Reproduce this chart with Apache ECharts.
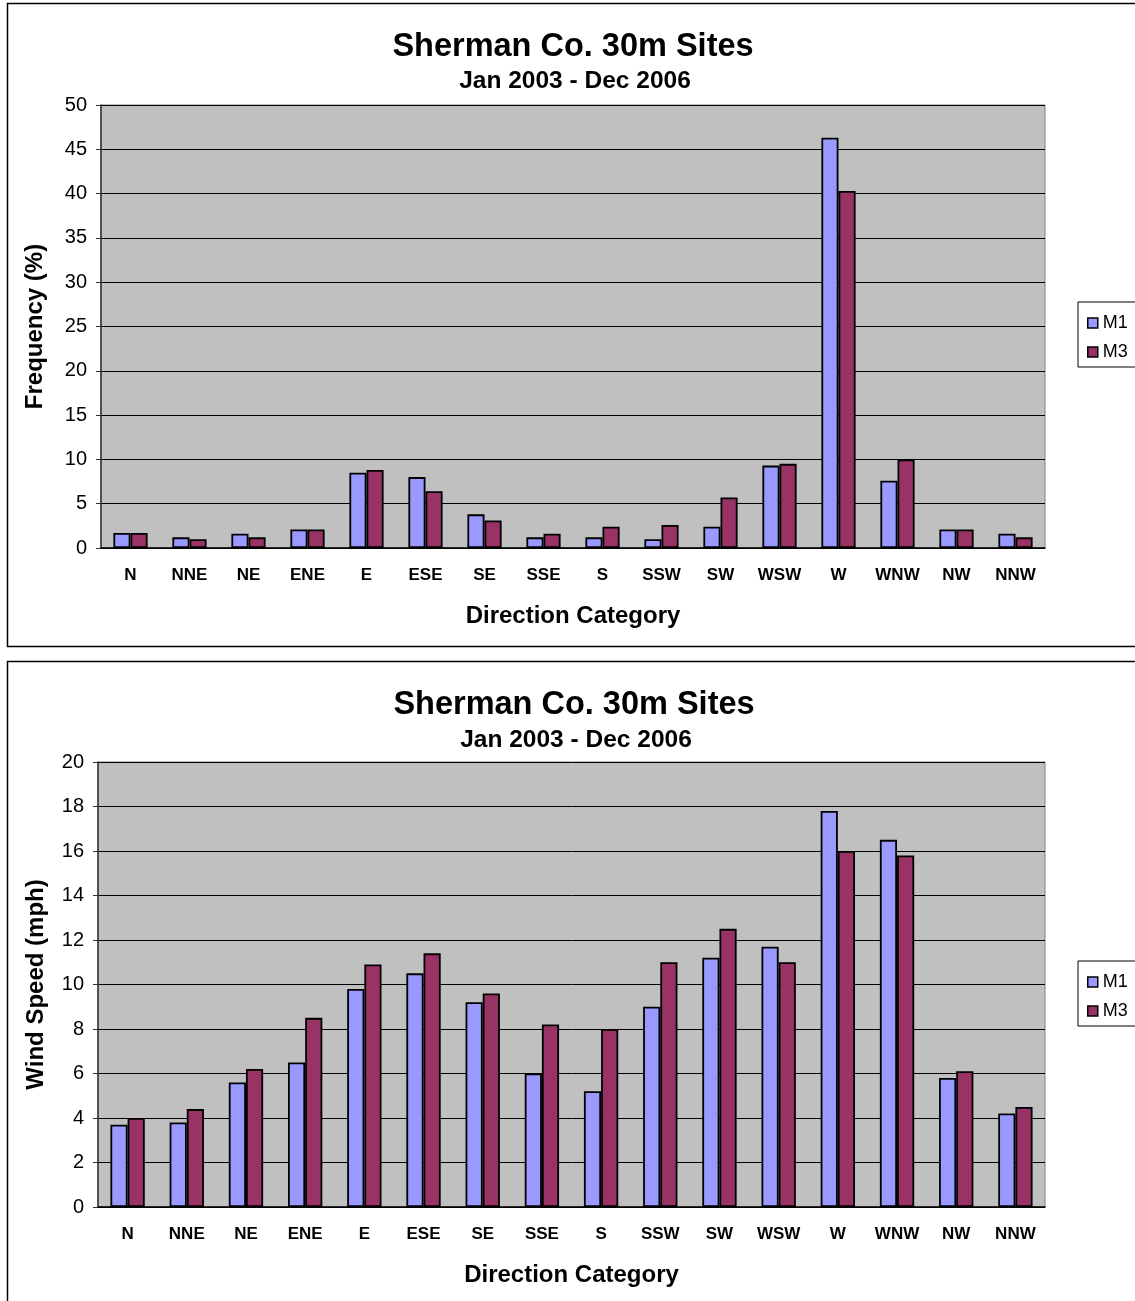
<!DOCTYPE html>
<html>
<head>
<meta charset="utf-8">
<script src="https://cdn.jsdelivr.net/npm/echarts@6/dist/echarts.min.js"></script>
<style>
  html, body { margin: 0; padding: 0; background: #fff; }
  #chart { width: 1135px; height: 1301px; }
</style>
</head>
<body>
<div id="chart"></div>
<script>
// Wind direction sectors
const directions = ['N', 'NNE', 'NE', 'ENE', 'E', 'ESE', 'SE', 'SSE', 'S', 'SSW', 'SW', 'WSW', 'W', 'WNW', 'NW', 'NNW'];

// Frequency of occurrence per sector (%)
const freqM1 = [1.7, 1.2, 1.6, 2.1, 8.5, 8.0, 3.8, 1.2, 1.2, 1.0, 2.4, 9.3, 46.3, 7.6, 2.1, 1.6];
const freqM3 = [1.7, 1.0, 1.2, 2.1, 8.8, 6.4, 3.1, 1.6, 2.4, 2.6, 5.7, 9.5, 40.3, 10.0, 2.1, 1.2];

// Mean wind speed per sector (mph)
const speedM1 = [3.7, 3.8, 5.6, 6.5, 9.8, 10.5, 9.2, 6.0, 5.2, 9.0, 11.2, 11.7, 17.8, 16.5, 5.8, 4.2];
const speedM3 = [4.0, 4.4, 6.2, 8.5, 10.9, 11.4, 9.6, 8.2, 8.0, 11.0, 12.5, 11.0, 16.0, 15.8, 6.1, 4.5];

const siteNames = ['M1', 'M3'];
const titleText = 'Sherman Co. 30m Sites';
const periodText = 'Jan 2003 - Dec 2006';
const xName = 'Direction Category';
const yNames = ['Frequency (%)', 'Wind Speed (mph)'];

const FONT = '"Liberation Sans", Arial, Helvetica, sans-serif';
const colors = { M1: '#9999FF', M3: '#993366' };

const chart = echarts.init(document.getElementById('chart'), null, { renderer: 'canvas' });

function titleItem(text, x, y, size) {
  return {
    text: text,
    left: x,
    top: y,
    textAlign: 'center',
    padding: 0,
    textStyle: { fontFamily: FONT, fontSize: size, fontWeight: 'bold', color: '#000' }
  };
}

function xAxisFor(gridIndex) {
  return {
    type: 'category',
    gridIndex: gridIndex,
    data: directions,
    name: xName,
    nameLocation: 'middle',
    nameGap: 56,
    nameTextStyle: { fontFamily: FONT, fontSize: 24, fontWeight: 'bold', color: '#000' },
    axisLine: { lineStyle: { color: '#000', width: 1.5 } },
    axisTick: { inside: true, length: 5, lineStyle: { color: '#000' } },
    axisLabel: { margin: 19, fontFamily: FONT, fontSize: 17, fontWeight: 'bold', color: '#000', interval: 0 },
    splitLine: { show: false }
  };
}

function yAxisFor(gridIndex, max, interval, name, gap) {
  return {
    type: 'value',
    gridIndex: gridIndex,
    min: 0,
    max: max,
    interval: interval,
    name: name,
    nameLocation: 'middle',
    nameRotate: 90,
    nameGap: gap,
    nameTextStyle: { fontFamily: FONT, fontSize: 24, fontWeight: 'bold', color: '#000' },
    axisLine: { show: true, lineStyle: { color: '#333', width: 1.5 } },
    axisTick: { show: true, inside: false, length: 5, lineStyle: { color: '#333' } },
    axisLabel: { margin: 14, fontFamily: FONT, fontSize: 20, color: '#000' },
    splitLine: { show: true, lineStyle: { color: '#000', width: 1 } }
  };
}

function barSeries(name, data, axisIndex) {
  return {
    name: name,
    type: 'bar',
    xAxisIndex: axisIndex,
    yAxisIndex: axisIndex,
    data: data,
    barGap: '0%',
    barCategoryGap: '42%',
    itemStyle: { color: colors[name], borderColor: '#000', borderWidth: 1.8 },
    emphasis: { disabled: true },
    animation: false
  };
}

function legendFor(top) {
  return {
    data: siteNames,
    orient: 'vertical',
    left: 1078,
    top: top,
    padding: [12, 40, 6, 9],
    itemGap: 11,
    itemWidth: 10,
    itemHeight: 10,
    icon: 'rect',
    itemStyle: { borderColor: '#000', borderWidth: 1.5 },
    borderColor: '#000',
    borderWidth: 1,
    backgroundColor: '#fff',
    textStyle: { fontFamily: FONT, fontSize: 18, color: '#000', padding: [0, 0, 0, 0] },
    selectedMode: false
  };
}

const option = {
  backgroundColor: '#fff',
  animation: false,
  title: [
    titleItem(titleText, 573, 31, 32.5),
    titleItem(periodText, 575, 69, 24.5),
    titleItem(titleText, 574, 689, 32.5),
    titleItem(periodText, 576, 728, 24.5)
  ],
  legend: [legendFor(302), legendFor(961)],
  grid: [
    { left: 101, top: 105, width: 944, height: 443, show: true, backgroundColor: '#C0C0C0', borderColor: '#808080', borderWidth: 1 },
    { left: 98, top: 762, width: 947, height: 445, show: true, backgroundColor: '#C0C0C0', borderColor: '#808080', borderWidth: 1 }
  ],
  xAxis: [xAxisFor(0), xAxisFor(1)],
  yAxis: [
    yAxisFor(0, 50, 5, yNames[0], 54),
    yAxisFor(1, 20, 2, yNames[1], 50)
  ],
  series: [
    barSeries('M1', freqM1, 0),
    barSeries('M3', freqM3, 0),
    barSeries('M1', speedM1, 1),
    barSeries('M3', speedM3, 1)
  ],
  graphic: [
    // frames around each chart panel
    { type: 'rect', silent: true, z: -1, shape: { x: 7.5, y: 3.5, width: 1140, height: 643 },
      style: { fill: null, stroke: '#000', lineWidth: 1.5 } },
    { type: 'rect', silent: true, z: -1, shape: { x: 7.5, y: 661.5, width: 1140, height: 660 },
      style: { fill: null, stroke: '#000', lineWidth: 1.5 } }
  ]
};

chart.setOption(option);
</script>
</body>
</html>
